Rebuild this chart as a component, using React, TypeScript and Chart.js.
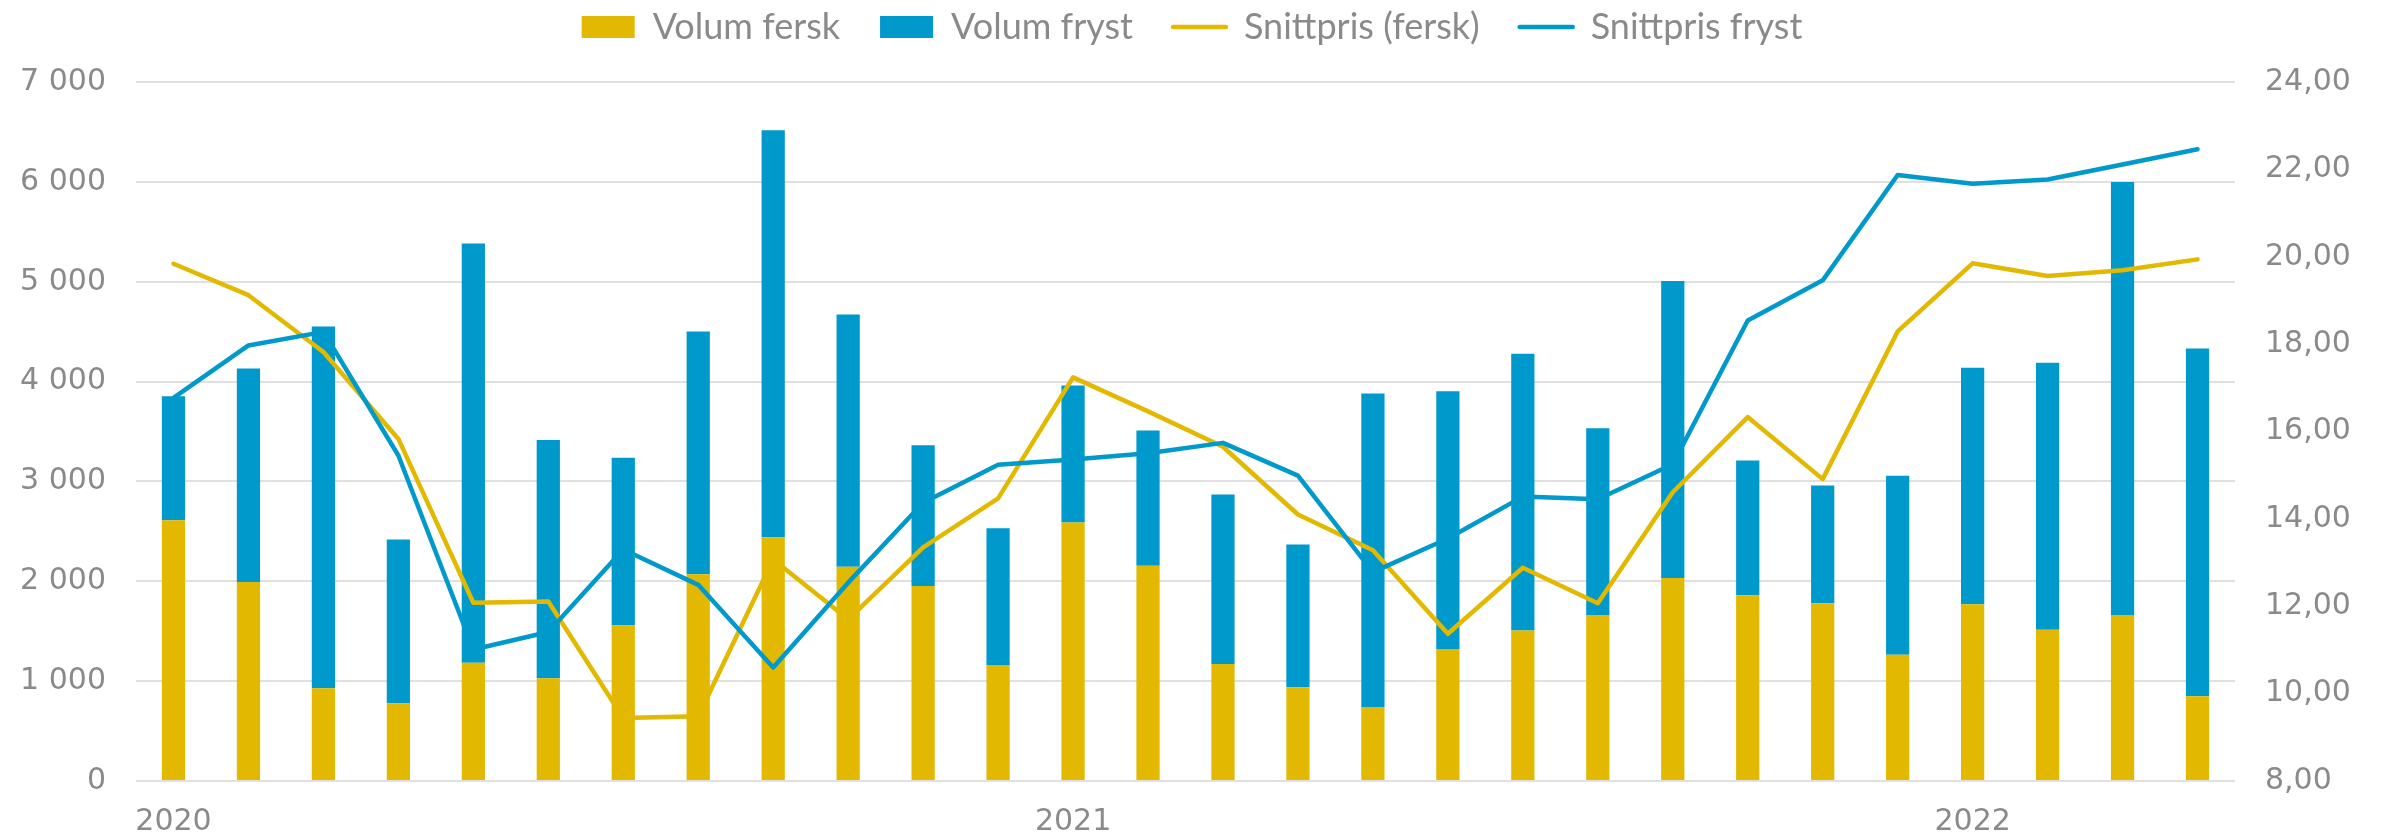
import React, { useEffect, useRef } from 'react';
import { Chart, registerables } from 'chart.js';

Chart.register(...registerables);

const months = [
  '2020-01', '2020-02', '2020-03', '2020-04', '2020-05', '2020-06', '2020-07', '2020-08', '2020-09', '2020-10', '2020-11', '2020-12',
  '2021-01', '2021-02', '2021-03', '2021-04', '2021-05', '2021-06', '2021-07', '2021-08', '2021-09', '2021-10', '2021-11', '2021-12',
  '2022-01', '2022-02', '2022-03', '2022-04',
];

const tickLabels = [
  '2020', '', '', '', '', '', '', '', '', '', '', '',
  '2021', '', '', '', '', '', '', '', '', '', '', '',
  '2022', '', '', '',
];

const volumFersk = [
  2610, 1994, 930, 778, 1185, 1028, 1560, 2070, 2441, 2146, 1953, 1162,
  2588, 2155, 1171, 939, 742, 1323, 1506, 1658, 2034, 1860, 1779, 1265,
  1770, 1515, 1663, 849,
];

const volumFryst = [
  1243, 2136, 3621, 1640, 4197, 2387, 1676, 2432, 4077, 2525, 1409, 1368,
  1373, 1354, 1699, 1430, 3138, 2580, 2772, 1874, 2973, 1350, 1180, 1793,
  2369, 2674, 4336, 3483,
];

const snittprisFersk = [
  19.84, 19.12, 17.82, 15.83, 12.08, 12.11, 9.44, 9.48, 13.07, 11.7, 13.35, 14.47,
  17.24, 16.46, 15.65, 14.1, 13.28, 11.37, 12.88, 12.07, 14.61, 16.33, 14.91, 18.29,
  19.85, 19.56, 19.69, 19.94,
];

const snittprisFryst = [
  16.77, 17.97, 18.28, 15.45, 11.01, 11.41, 13.3, 12.49, 10.6, 12.54, 14.37, 15.24,
  15.36, 15.5, 15.74, 14.99, 12.78, 13.55, 14.51, 14.45, 15.25, 18.54, 19.46, 21.87,
  21.67, 21.77, 22.11, 22.46,
];

const YELLOW = '#E2B900';
const BLUE = '#0099CC';
const TEXT = '#8a8a8a';
const FONT = '"DejaVu Sans", sans-serif';
const LEGEND_FONT = 'Lato, "Noto Sans", sans-serif';

const legendSpacer = {
  id: 'legendSpacer',
  beforeLayout(chart: any) {
    const lg = chart.legend;
    if (lg && !lg.__patched) {
      const orig = lg.fit;
      lg.fit = function () {
        orig.call(this);
        this.height = 113;
      };
      lg.__patched = true;
    }
  },
};

export default function App() {
  const ref = useRef<HTMLCanvasElement>(null);

  useEffect(() => {
    if (!ref.current) return;
    const legendRank: Record<number, number> = { 2: 0, 3: 1, 1: 2, 0: 3 };
    const chart = new Chart(ref.current, {
      type: 'bar',
      data: {
        labels: months,
        datasets: [
          {
            type: 'line',
            label: 'Snittpris fryst',
            data: snittprisFryst,
            borderColor: BLUE,
            backgroundColor: BLUE,
            borderWidth: 4.5,
            pointRadius: 0,
            pointStyle: 'line',
            borderCapStyle: 'round',
            borderJoinStyle: 'round',
            yAxisID: 'y1',
            tension: 0,
          } as any,
          {
            type: 'line',
            label: 'Snittpris (fersk)',
            data: snittprisFersk,
            borderColor: YELLOW,
            backgroundColor: YELLOW,
            borderWidth: 4.5,
            pointRadius: 0,
            pointStyle: 'line',
            borderCapStyle: 'round',
            borderJoinStyle: 'round',
            yAxisID: 'y1',
            tension: 0,
          } as any,
          {
            type: 'bar',
            label: 'Volum fersk',
            data: volumFersk,
            backgroundColor: YELLOW,
            borderWidth: 0,
            pointStyle: 'rect',
            yAxisID: 'y',
            stack: 'vol',
            categoryPercentage: 1,
            barPercentage: 0.31,
          } as any,
          {
            type: 'bar',
            label: 'Volum fryst',
            data: volumFryst,
            backgroundColor: BLUE,
            borderWidth: 0,
            pointStyle: 'rect',
            yAxisID: 'y',
            stack: 'vol',
            categoryPercentage: 1,
            barPercentage: 0.31,
          } as any,
        ],
      },
      options: {
        animation: false,
        responsive: true,
        maintainAspectRatio: false,
        layout: { padding: { top: -31, left: 0, right: 0, bottom: 0 } },
        plugins: {
          tooltip: { enabled: false },
          legend: {
            position: 'top',
            labels: {
              usePointStyle: true,
              pointStyleWidth: 53,
              boxHeight: 22,
              padding: 40,
              color: TEXT,
              font: { family: LEGEND_FONT, size: 36 },
              sort: (a: any, b: any) => legendRank[a.datasetIndex] - legendRank[b.datasetIndex],
              generateLabels: (chart: any) => {
                const items = Chart.defaults.plugins.legend.labels.generateLabels(chart);
                return items.map((it: any) => {
                  const isLine = it.datasetIndex === 0 || it.datasetIndex === 1;
                  return { ...it, pointStyle: isLine ? 'line' : 'rect', lineCap: isLine ? 'round' : 'butt' };
                });
              },
            },
          },
        },
        scales: {
          x: {
            stacked: true,
            grid: { display: false, drawTicks: false },
            border: { display: false },
            afterFit: (s: any) => { s.height = 59; },
            ticks: {
              autoSkip: false,
              maxRotation: 0,
              minRotation: 0,
              padding: 23,
              color: TEXT,
              font: { family: FONT, size: 30 },
              callback: (_v: any, i: number) => tickLabels[i],
            },
          },
          y: {
            stacked: true,
            position: 'left',
            min: 0,
            max: 7000,
            afterFit: (s: any) => { s.width = 136; },
            grid: { color: '#e0e0e0', lineWidth: 2, drawTicks: false },
            border: { display: false },
            ticks: {
              stepSize: 1000,
              padding: 30,
              color: TEXT,
              font: { family: FONT, size: 30 },
              callback: (v: any) => String(v).replace(/\B(?=(\d{3})+(?!\d))/g, ' '),
            },
          },
          y1: {
            position: 'right',
            min: 8,
            max: 24,
            afterFit: (s: any) => { s.width = 149; },
            grid: { display: false, drawTicks: false },
            border: { display: false },
            ticks: {
              stepSize: 2,
              padding: 30,
              color: TEXT,
              font: { family: FONT, size: 30 },
              callback: (v: any) => Number(v).toFixed(2).replace('.', ','),
            },
          },
        },
      },
      plugins: [legendSpacer],
    });
    return () => chart.destroy();
  }, []);

  return (
    <div style={{ position: 'fixed', left: 0, top: 0, width: '2384px', height: '840px', background: '#fff' }}>
      <canvas ref={ref} />
    </div>
  );
}
